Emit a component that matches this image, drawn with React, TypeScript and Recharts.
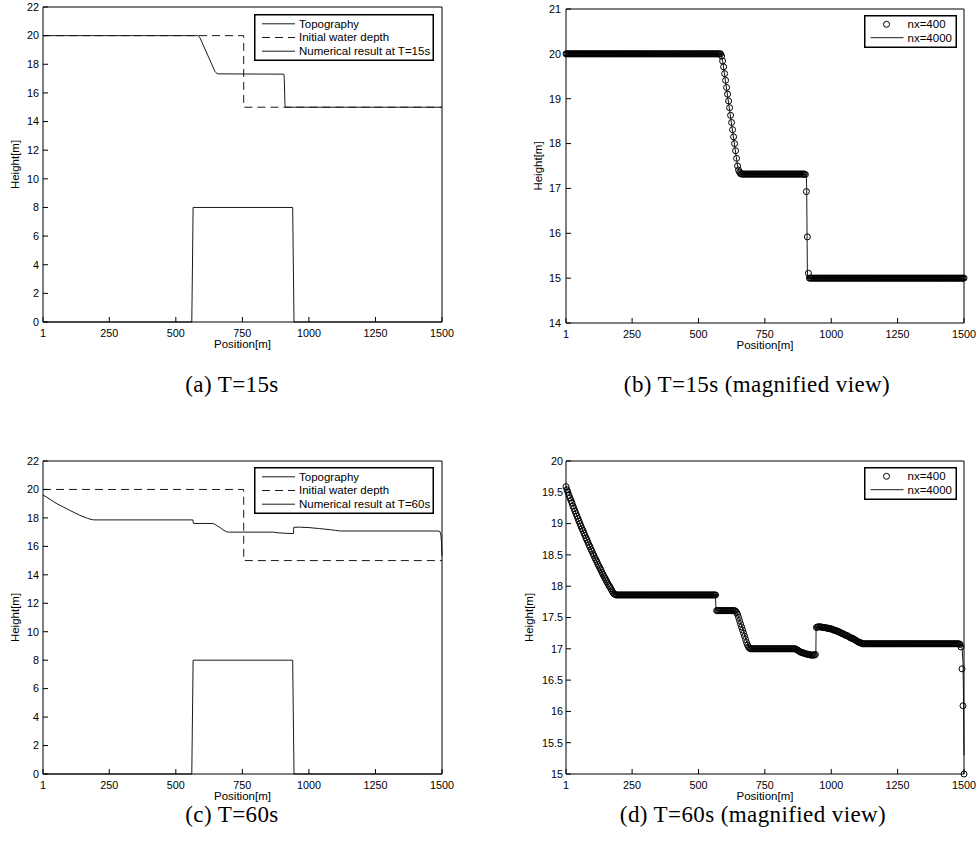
import React from "react";
import { ComposedChart, Label, Line, Scatter, XAxis, YAxis } from "recharts";

const SANS = '"Liberation Sans", Arial, Helvetica, sans-serif';
const SERIF = '"Liberation Serif", "Times New Roman", serif';

// axis ticks
const positionTicks = [1, 250, 500, 750, 1000, 1250, 1500];
const heightTicksFull = [0, 2, 4, 6, 8, 10, 12, 14, 16, 18, 20, 22];
const heightTicks15 = [14, 15, 16, 17, 18, 19, 20, 21];
const heightTicks60 = [15, 15.5, 16, 16.5, 17, 17.5, 18, 18.5, 19, 19.5, 20];

// bottom topography (the bump)
const topoX = [1, 560, 565, 939, 944, 1500];
const topoH = [0, 0, 8, 8, 0, 0];

// initial water depth (dam at x=755)
const initX = [1, 755, 755, 1500];
const initH = [20, 20, 15, 15];

// fine grid (nx=4000), T=15s
const fine15X = [1, 583, 587, 591, 647, 651, 655, 659, 905, 906, 907.5, 910, 911.5, 1500];
const fine15H = [20, 20, 19.95, 19.84, 17.5, 17.41, 17.36, 17.33, 17.31, 17.3, 17.0, 15.2, 15, 15];

// fine grid (nx=4000), T=60s
const fine60X = [1, 12, 50, 103, 140, 168, 185, 192, 564, 566, 636, 645, 656, 668, 680, 690, 698, 868, 880, 910, 942, 943, 965, 1000, 1040, 1080, 1100, 1118, 1485, 1492, 1496, 1498, 1500];
const fine60H = [19.6, 19.49, 19.03, 18.52, 18.18, 17.97, 17.88, 17.86, 17.86, 17.61, 17.61, 17.57, 17.44, 17.3, 17.13, 17.03, 17.0, 17.0, 16.96, 16.92, 16.9, 17.34, 17.35, 17.32, 17.25, 17.17, 17.12, 17.08, 17.08, 17.05, 16.8, 16.3, 15.3];

// coarse grid (nx=400) cell positions
const coarseX = Array.from({ length: 400 }, (_, i) => 1 + (i * 1499) / 399);

// coarse grid (nx=400), T=15s
const coarse15H = [
  20, 20, 20, 20, 20, 20, 20, 20, 20, 20, 20, 20, 20, 20, 20, 20, 20, 20, 20, 20,
  20, 20, 20, 20, 20, 20, 20, 20, 20, 20, 20, 20, 20, 20, 20, 20, 20, 20, 20, 20,
  20, 20, 20, 20, 20, 20, 20, 20, 20, 20, 20, 20, 20, 20, 20, 20, 20, 20, 20, 20,
  20, 20, 20, 20, 20, 20, 20, 20, 20, 20, 20, 20, 20, 20, 20, 20, 20, 20, 20, 20,
  20, 20, 20, 20, 20, 20, 20, 20, 20, 20, 20, 20, 20, 20, 20, 20, 20, 20, 20, 20,
  20, 20, 20, 20, 20, 20, 20, 20, 20, 20, 20, 20, 20, 20, 20, 20, 20, 20, 20, 20,
  20, 20, 20, 20, 20, 20, 20, 20, 20, 20, 20, 20, 20, 20, 20, 20, 20, 20, 20, 20,
  20, 20, 20, 20, 20, 20, 20, 20, 20, 20, 20, 20, 20, 20, 20, 20, 19.95, 19.84, 19.71, 19.56,
  19.41, 19.25, 19.1, 18.95, 18.8, 18.63, 18.47, 18.31, 18.15, 18.0, 17.84, 17.67, 17.5, 17.41, 17.36, 17.33, 17.32, 17.32, 17.32, 17.32,
  17.32, 17.32, 17.32, 17.32, 17.32, 17.32, 17.32, 17.32, 17.32, 17.32, 17.32, 17.32, 17.32, 17.32, 17.32, 17.32, 17.32, 17.32, 17.32, 17.32,
  17.32, 17.32, 17.32, 17.32, 17.32, 17.32, 17.32, 17.32, 17.32, 17.32, 17.32, 17.32, 17.32, 17.32, 17.32, 17.32, 17.32, 17.32, 17.32, 17.32,
  17.32, 17.32, 17.32, 17.32, 17.32, 17.32, 17.32, 17.32, 17.32, 17.32, 17.32, 17.32, 17.32, 17.32, 17.32, 17.32, 17.32, 17.32, 17.32, 17.32,
  17.31, 16.93, 15.92, 15.11, 15, 15, 15, 15, 15, 15, 15, 15, 15, 15, 15, 15, 15, 15, 15, 15,
  15, 15, 15, 15, 15, 15, 15, 15, 15, 15, 15, 15, 15, 15, 15, 15, 15, 15, 15, 15,
  15, 15, 15, 15, 15, 15, 15, 15, 15, 15, 15, 15, 15, 15, 15, 15, 15, 15, 15, 15,
  15, 15, 15, 15, 15, 15, 15, 15, 15, 15, 15, 15, 15, 15, 15, 15, 15, 15, 15, 15,
  15, 15, 15, 15, 15, 15, 15, 15, 15, 15, 15, 15, 15, 15, 15, 15, 15, 15, 15, 15,
  15, 15, 15, 15, 15, 15, 15, 15, 15, 15, 15, 15, 15, 15, 15, 15, 15, 15, 15, 15,
  15, 15, 15, 15, 15, 15, 15, 15, 15, 15, 15, 15, 15, 15, 15, 15, 15, 15, 15, 15,
  15, 15, 15, 15, 15, 15, 15, 15, 15, 15, 15, 15, 15, 15, 15, 15, 15, 15, 15, 15,
];

// coarse grid (nx=400), T=60s
const coarse60H = [
  19.59, 19.54, 19.5, 19.45, 19.41, 19.37, 19.33, 19.28, 19.24, 19.2, 19.16, 19.12, 19.08, 19.04, 19.0, 18.96, 18.92, 18.89, 18.85, 18.81,
  18.77, 18.74, 18.7, 18.66, 18.63, 18.59, 18.56, 18.52, 18.49, 18.45, 18.42, 18.39, 18.35, 18.32, 18.29, 18.26, 18.22, 18.19, 18.16, 18.13,
  18.1, 18.07, 18.04, 18.01, 17.99, 17.96, 17.93, 17.9, 17.88, 17.87, 17.86, 17.86, 17.86, 17.86, 17.86, 17.86, 17.86, 17.86, 17.86, 17.86,
  17.86, 17.86, 17.86, 17.86, 17.86, 17.86, 17.86, 17.86, 17.86, 17.86, 17.86, 17.86, 17.86, 17.86, 17.86, 17.86, 17.86, 17.86, 17.86, 17.86,
  17.86, 17.86, 17.86, 17.86, 17.86, 17.86, 17.86, 17.86, 17.86, 17.86, 17.86, 17.86, 17.86, 17.86, 17.86, 17.86, 17.86, 17.86, 17.86, 17.86,
  17.86, 17.86, 17.86, 17.86, 17.86, 17.86, 17.86, 17.86, 17.86, 17.86, 17.86, 17.86, 17.86, 17.86, 17.86, 17.86, 17.86, 17.86, 17.86, 17.86,
  17.86, 17.86, 17.86, 17.86, 17.86, 17.86, 17.86, 17.86, 17.86, 17.86, 17.86, 17.86, 17.86, 17.86, 17.86, 17.86, 17.86, 17.86, 17.86, 17.86,
  17.86, 17.86, 17.86, 17.86, 17.86, 17.86, 17.86, 17.86, 17.86, 17.86, 17.86, 17.61, 17.61, 17.61, 17.61, 17.61, 17.61, 17.61, 17.61, 17.61,
  17.61, 17.61, 17.61, 17.61, 17.61, 17.61, 17.61, 17.61, 17.61, 17.61, 17.6, 17.58, 17.55, 17.5, 17.45, 17.4, 17.35, 17.3, 17.25, 17.2,
  17.15, 17.1, 17.06, 17.03, 17.01, 17.0, 17, 17, 17, 17, 17, 17, 17, 17, 17, 17, 17, 17, 17, 17,
  17, 17, 17, 17, 17, 17, 17, 17, 17, 17, 17, 17, 17, 17, 17, 17, 17, 17, 17, 17,
  17, 17, 17, 17, 17, 17, 17, 17, 17, 17, 17, 16.99, 16.98, 16.97, 16.96, 16.95, 16.94, 16.94, 16.93, 16.93,
  16.92, 16.92, 16.91, 16.91, 16.91, 16.9, 16.9, 16.9, 16.9, 16.9, 16.91, 17.34, 17.35, 17.35, 17.35, 17.35, 17.35, 17.34, 17.34, 17.34,
  17.34, 17.33, 17.33, 17.33, 17.32, 17.32, 17.32, 17.31, 17.3, 17.3, 17.29, 17.29, 17.28, 17.27, 17.27, 17.26, 17.25, 17.24, 17.24, 17.23,
  17.22, 17.21, 17.21, 17.2, 17.19, 17.18, 17.17, 17.17, 17.16, 17.15, 17.14, 17.13, 17.12, 17.11, 17.1, 17.1, 17.09, 17.08, 17.08, 17.08,
  17.08, 17.08, 17.08, 17.08, 17.08, 17.08, 17.08, 17.08, 17.08, 17.08, 17.08, 17.08, 17.08, 17.08, 17.08, 17.08, 17.08, 17.08, 17.08, 17.08,
  17.08, 17.08, 17.08, 17.08, 17.08, 17.08, 17.08, 17.08, 17.08, 17.08, 17.08, 17.08, 17.08, 17.08, 17.08, 17.08, 17.08, 17.08, 17.08, 17.08,
  17.08, 17.08, 17.08, 17.08, 17.08, 17.08, 17.08, 17.08, 17.08, 17.08, 17.08, 17.08, 17.08, 17.08, 17.08, 17.08, 17.08, 17.08, 17.08, 17.08,
  17.08, 17.08, 17.08, 17.08, 17.08, 17.08, 17.08, 17.08, 17.08, 17.08, 17.08, 17.08, 17.08, 17.08, 17.08, 17.08, 17.08, 17.08, 17.08, 17.08,
  17.08, 17.08, 17.08, 17.08, 17.08, 17.08, 17.08, 17.08, 17.08, 17.08, 17.08, 17.08, 17.08, 17.08, 17.08, 17.07, 17.03, 16.68, 16.09, 15.0,
];

const zip = (xs: number[], ys: number[]) => xs.map((x, i) => ({ x, y: ys[i] }));

const LINE = "#1a1a1a";

type Box = { left: number; top: number; width: number; height: number };
type Plot = { x0: number; x1: number; y0: number; y1: number };

const ring = (p: any) => (
  <circle cx={p.cx} cy={p.cy} r={3} fill="none" stroke="#000" strokeWidth={1} />
);

function Panel({
  box,
  plot,
  yDomain,
  yTicks,
  yTickGap,
  yLabelX,
  series,
}: {
  box: Box;
  plot: Plot;
  yDomain: [number, number];
  yTicks: number[];
  yTickGap: number;
  yLabelX: number;
  series: React.ReactElement[];
}) {
  const xAxisH = 30;
  const yAxisW = plot.x0 - box.left;
  const margin = {
    top: plot.y0 - box.top - 1,
    right: box.left + box.width - plot.x1 - 1,
    bottom: box.top + box.height - plot.y1 - xAxisH,
    left: 0,
  };
  const tickStyle = { fill: "#000", fontSize: 10.8, fontFamily: SANS };
  const axisLine = { stroke: "#000", strokeWidth: 1 };
  return (
    <div
      style={{
        position: "absolute",
        left: box.left,
        top: box.top,
        width: box.width,
        height: box.height,
        fontFamily: SANS,
      }}
    >
      <ComposedChart width={box.width} height={box.height} margin={margin}>
        <XAxis
          xAxisId="b"
          type="number"
          dataKey="x"
          domain={[1, 1500]}
          ticks={positionTicks}
          interval={0}
          height={xAxisH}
          tickSize={-5}
          tickMargin={12}
          tick={tickStyle}
          axisLine={axisLine}
          tickLine={axisLine}
        >
          <Label value="Position[m]" position="insideBottom" offset={4.5} fill="#000" fontSize={11.5} />
        </XAxis>
        <XAxis
          xAxisId="t"
          orientation="top"
          type="number"
          dataKey="x"
          domain={[1, 1500]}
          ticks={positionTicks}
          interval={0}
          height={1}
          tickSize={-5}
          tick={false}
          axisLine={axisLine}
          tickLine={axisLine}
        />
        <YAxis
          yAxisId="l"
          type="number"
          dataKey="y"
          domain={yDomain}
          ticks={yTicks}
          interval={0}
          width={yAxisW}
          tickSize={-5}
          tickMargin={5 + yTickGap}
          tick={tickStyle}
          axisLine={axisLine}
          tickLine={axisLine}
        >
          <Label
            value="Height[m]"
            angle={-90}
            position="insideLeft"
            offset={yLabelX}
            fill="#000"
            fontSize={11.5}
            style={{ textAnchor: "middle" }}
          />
        </YAxis>
        <YAxis
          yAxisId="r"
          orientation="right"
          type="number"
          dataKey="y"
          domain={yDomain}
          ticks={yTicks}
          interval={0}
          width={1}
          tickSize={-5}
          tick={false}
          axisLine={axisLine}
          tickLine={axisLine}
        />
        {series}
      </ComposedChart>
    </div>
  );
}

function overviewSeries(fineX: number[], fineH: number[]) {
  return [
    <Line
      key="topo"
      xAxisId="b"
      yAxisId="l"
      data={zip(topoX, topoH)}
      dataKey="y"
      type="linear"
      stroke={LINE}
      strokeWidth={1}
      dot={false}
      isAnimationActive={false}
    />,
    <Line
      key="init"
      xAxisId="b"
      yAxisId="l"
      data={zip(initX, initH)}
      dataKey="y"
      type="linear"
      stroke={LINE}
      strokeWidth={1}
      strokeDasharray="8 5"
      dot={false}
      isAnimationActive={false}
    />,
    <Line
      key="num"
      xAxisId="b"
      yAxisId="l"
      data={zip(fineX, fineH)}
      dataKey="y"
      type="linear"
      stroke={LINE}
      strokeWidth={1}
      dot={false}
      isAnimationActive={false}
    />,
  ];
}

function magnifiedSeries(fineX: number[], fineH: number[], coarseH: number[]) {
  return [
    <Line
      key="fine"
      xAxisId="b"
      yAxisId="l"
      data={zip(fineX, fineH)}
      dataKey="y"
      type="linear"
      stroke={LINE}
      strokeWidth={1}
      dot={false}
      isAnimationActive={false}
    />,
    <Scatter
      key="coarse"
      xAxisId="b"
      yAxisId="l"
      data={zip(coarseX, coarseH)}
      dataKey="y"
      shape={ring}
      isAnimationActive={false}
    />,
  ];
}

function OverviewLegend({ left, top, time }: { left: number; top: number; time: string }) {
  const rows = [
    { name: "Topography", dash: undefined },
    { name: "Initial water depth", dash: "8 5" },
    { name: `Numerical result at T=${time}`, dash: undefined },
  ];
  return (
    <svg
      width={180}
      height={47}
      style={{ position: "absolute", left, top, fontFamily: SANS, overflow: "visible" }}
    >
      <rect x={0.75} y={0.75} width={178.5} height={45.5} fill="#fff" stroke="#000" strokeWidth={1.5} />
      {rows.map((r, i) => {
        const y = 9.8 + i * 13.7;
        return (
          <g key={r.name}>
            <line x1={8} x2={41} y1={y} y2={y} stroke={LINE} strokeWidth={1} strokeDasharray={r.dash} />
            <text x={45} y={y + 3.8} fontSize={11.5} fill="#000">
              {r.name}
            </text>
          </g>
        );
      })}
    </svg>
  );
}

function GridLegend({ left, top }: { left: number; top: number }) {
  return (
    <svg
      width={93}
      height={33}
      style={{ position: "absolute", left, top, fontFamily: SANS, overflow: "visible" }}
    >
      <rect x={0.75} y={0.75} width={91.5} height={31.5} fill="#fff" stroke="#000" strokeWidth={1.5} />
      <circle cx={22.5} cy={9.3} r={3} fill="none" stroke="#000" strokeWidth={1} />
      <text x={43.5} y={13.1} fontSize={11.5} fill="#000">
        nx=400
      </text>
      <line x1={6.5} x2={39.5} y1={22.7} y2={22.7} stroke={LINE} strokeWidth={1} />
      <text x={43.5} y={26.5} fontSize={11.5} fill="#000">
        nx=4000
      </text>
    </svg>
  );
}

function Caption({ cx, top, text }: { cx: number; top: number; text: string }) {
  return (
    <div
      style={{
        position: "absolute",
        left: cx - 200,
        top,
        width: 400,
        textAlign: "center",
        fontFamily: SERIF,
        fontSize: 23,
        letterSpacing: "0.4px",
        lineHeight: "26px",
        color: "#000",
        whiteSpace: "nowrap",
      }}
    >
      {text}
    </div>
  );
}

export default function App() {
  return (
    <div
      style={{
        position: "absolute",
        left: 0,
        top: 0,
        width: 979,
        height: 858,
        background: "#fff",
        overflow: "hidden",
      }}
    >
      <Panel
        box={{ left: 0, top: 0, width: 480, height: 360 }}
        plot={{ x0: 43, x1: 442, y0: 7, y1: 322 }}
        yDomain={[0, 22]}
        yTicks={heightTicksFull}
        yTickGap={4}
        yLabelX={15}
        series={overviewSeries(fine15X, fine15H)}
      />
      <Panel
        box={{ left: 490, top: 0, width: 489, height: 360 }}
        plot={{ x0: 566, x1: 964, y0: 9, y1: 323 }}
        yDomain={[14, 21]}
        yTicks={heightTicks15}
        yTickGap={5}
        yLabelX={47.5}
        series={magnifiedSeries(fine15X, fine15H, coarse15H)}
      />
      <Panel
        box={{ left: 0, top: 440, width: 480, height: 370 }}
        plot={{ x0: 43, x1: 442, y0: 461, y1: 774 }}
        yDomain={[0, 22]}
        yTicks={heightTicksFull}
        yTickGap={4}
        yLabelX={15}
        series={overviewSeries(fine60X, fine60H)}
      />
      <Panel
        box={{ left: 490, top: 440, width: 489, height: 370 }}
        plot={{ x0: 566, x1: 964, y0: 461, y1: 774 }}
        yDomain={[15, 20]}
        yTicks={heightTicks60}
        yTickGap={3}
        yLabelX={39}
        series={magnifiedSeries(fine60X, fine60H, coarse60H)}
      />

      <OverviewLegend left={254} top={14} time="15s" />
      <GridLegend left={864} top={15} />
      <OverviewLegend left={254} top={467} time="60s" />
      <GridLegend left={864} top={467} />

      <Caption cx={232} top={372} text="(a) T=15s" />
      <Caption cx={757} top={372} text="(b) T=15s (magnified view)" />
      <Caption cx={232} top={802} text="(c) T=60s" />
      <Caption cx={753} top={802} text="(d) T=60s (magnified view)" />
    </div>
  );
}
